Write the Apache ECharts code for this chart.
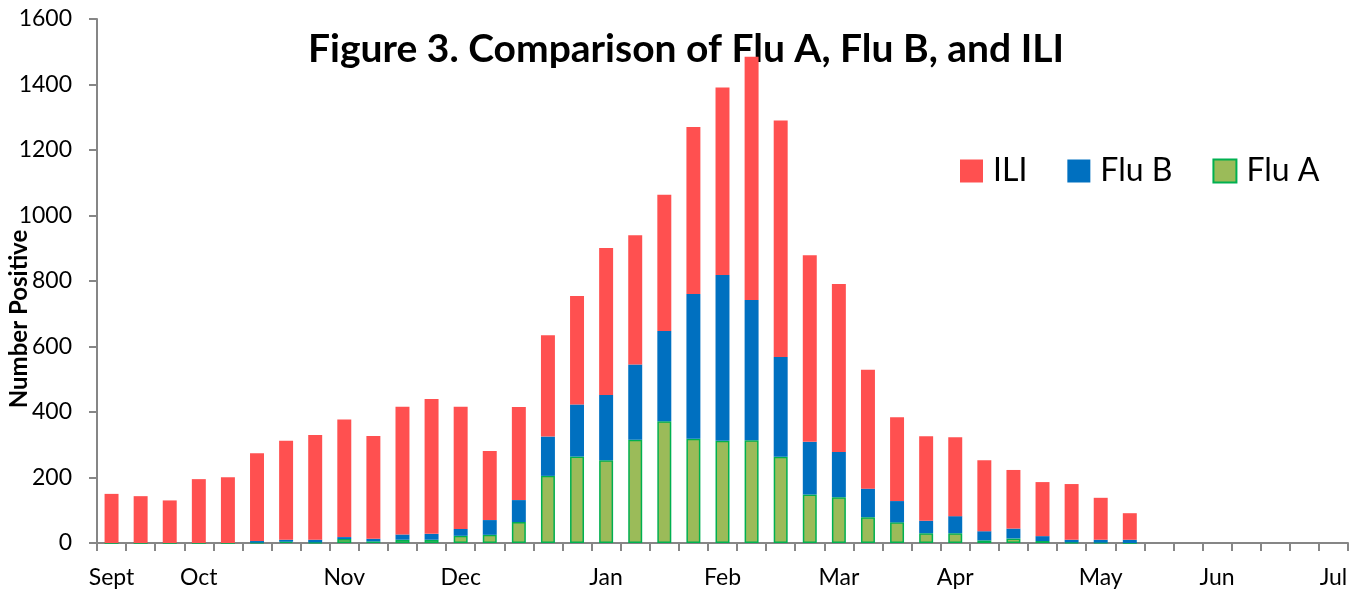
<!DOCTYPE html>
<html>
<head>
<meta charset="utf-8">
<script src="https://cdn.jsdelivr.net/npm/echarts@6/dist/echarts.min.js"></script>
<style>
  html, body { margin: 0; padding: 0; background: #fff; }
  #chart { width: 1353px; height: 590px; }
</style>
</head>
<body>
<div id="chart"></div>
<script>
// week slots, month name on the first week of each month
const weeks = [
  "Sept", "", "", "Oct", "", "", "", "", "Nov", "", "", "",
  "Dec", "", "", "", "", "Jan", "", "", "", "Feb", "", "", "",
  "Mar", "", "", "", "Apr", "", "", "", "", "May", "", "", "",
  "Jun", "", "", "", "Jul"
];

// stacked segment values per week (bottom to top: Flu A, Flu B, ILI)
const fluA = [0, 0, 0, 0, 0, 1, 4, 2, 12, 5, 10, 10,
  22, 25, 64, 205, 264, 253, 315, 372, 318, 312, 314, 263,
  148, 140, 79, 63, 30, 30, 8, 14, 6, 2, 1, 0];
const fluB = [0, 0, 0, 0, 0, 5, 6, 8, 6, 8, 16, 18,
  21, 45, 67, 120, 159, 199, 230, 275, 442, 506, 428, 305,
  161, 138, 87, 65, 38, 52, 28, 30, 15, 8, 9, 10];
const ili = [150, 143, 130, 195, 201, 268, 302, 320, 359, 314, 390, 412,
  373, 211, 284, 309, 331, 449, 395, 416, 510, 573, 743, 722,
  570, 513, 363, 256, 258, 241, 217, 179, 165, 170, 128, 81];

const yTicks = { min: 0, max: 1600, step: 200 };

const font = "Lato, 'Open Sans', sans-serif";
const chart = echarts.init(document.getElementById("chart"));

const option = {
  animation: false,
  title: {
    text: "Figure 3. Comparison of Flu A, Flu B, and ILI",
    left: 303,
    top: 25,
    z: 0,
    textStyle: {
      fontFamily: font,
      fontWeight: "bold",
      fontSize: 39,
      color: "#000",
    },
  },
  legend: {
    data: ["ILI", "Flu B", "Flu A"],
    icon: "rect",
    left: 955,
    top: 150,
    itemWidth: 23,
    itemHeight: 23,
    itemGap: 40,
    textStyle: {
      fontFamily: font,
      fontSize: 32,
      color: "#000",
      padding: [0, 0, 0, 5],
    },
  },
  grid: {
    left: 97,
    right: 5,
    top: 19,
    bottom: 47,
    outerBoundsMode: "none",
  },
  xAxis: {
    type: "category",
    data: weeks,
    boundaryGap: true,
    axisLine: { lineStyle: { color: "#868686", width: 2 } },
    axisTick: {
      show: true,
      interval: 0,
      length: 8,
      lineStyle: { color: "#868686", width: 2 },
    },
    axisLabel: {
      interval: 0,
      margin: 23,
      fontFamily: font,
      fontSize: 23,
      color: "#000",
    },
  },
  yAxis: {
    type: "value",
    min: yTicks.min,
    max: yTicks.max,
    interval: yTicks.step,
    name: "Number Positive",
    nameLocation: "middle",
    nameGap: 66,
    nameMoveOverlap: false,
    nameTextStyle: {
      fontFamily: font,
      fontWeight: "bold",
      fontSize: 24,
      color: "#000",
      padding: [0, 76, 0, 0],
    },
    splitLine: { show: false },
    axisLine: { show: true, lineStyle: { color: "#868686", width: 2 } },
    axisTick: {
      show: true,
      length: 8,
      lineStyle: { color: "#868686", width: 2 },
    },
    axisLabel: {
      margin: 25,
      fontFamily: font,
      fontSize: 23,
      color: "#000",
      formatter: (v) => String(v),
    },
  },
  series: [
    {
      name: "Flu A",
      type: "bar",
      stack: "total",
      barWidth: "48%",
      z: 3,
      data: fluA,
      itemStyle: { color: "#9bbb59", borderColor: "#00b050", borderWidth: 1.5 },
    },
    {
      name: "Flu B",
      type: "bar",
      stack: "total",
      z: 3,
      data: fluB,
      itemStyle: { color: "#0070c0" },
    },
    {
      name: "ILI",
      type: "bar",
      stack: "total",
      z: 3,
      data: ili,
      itemStyle: { color: "#ff5050" },
    },
  ],
};

chart.setOption(option);
</script>
</body>
</html>
